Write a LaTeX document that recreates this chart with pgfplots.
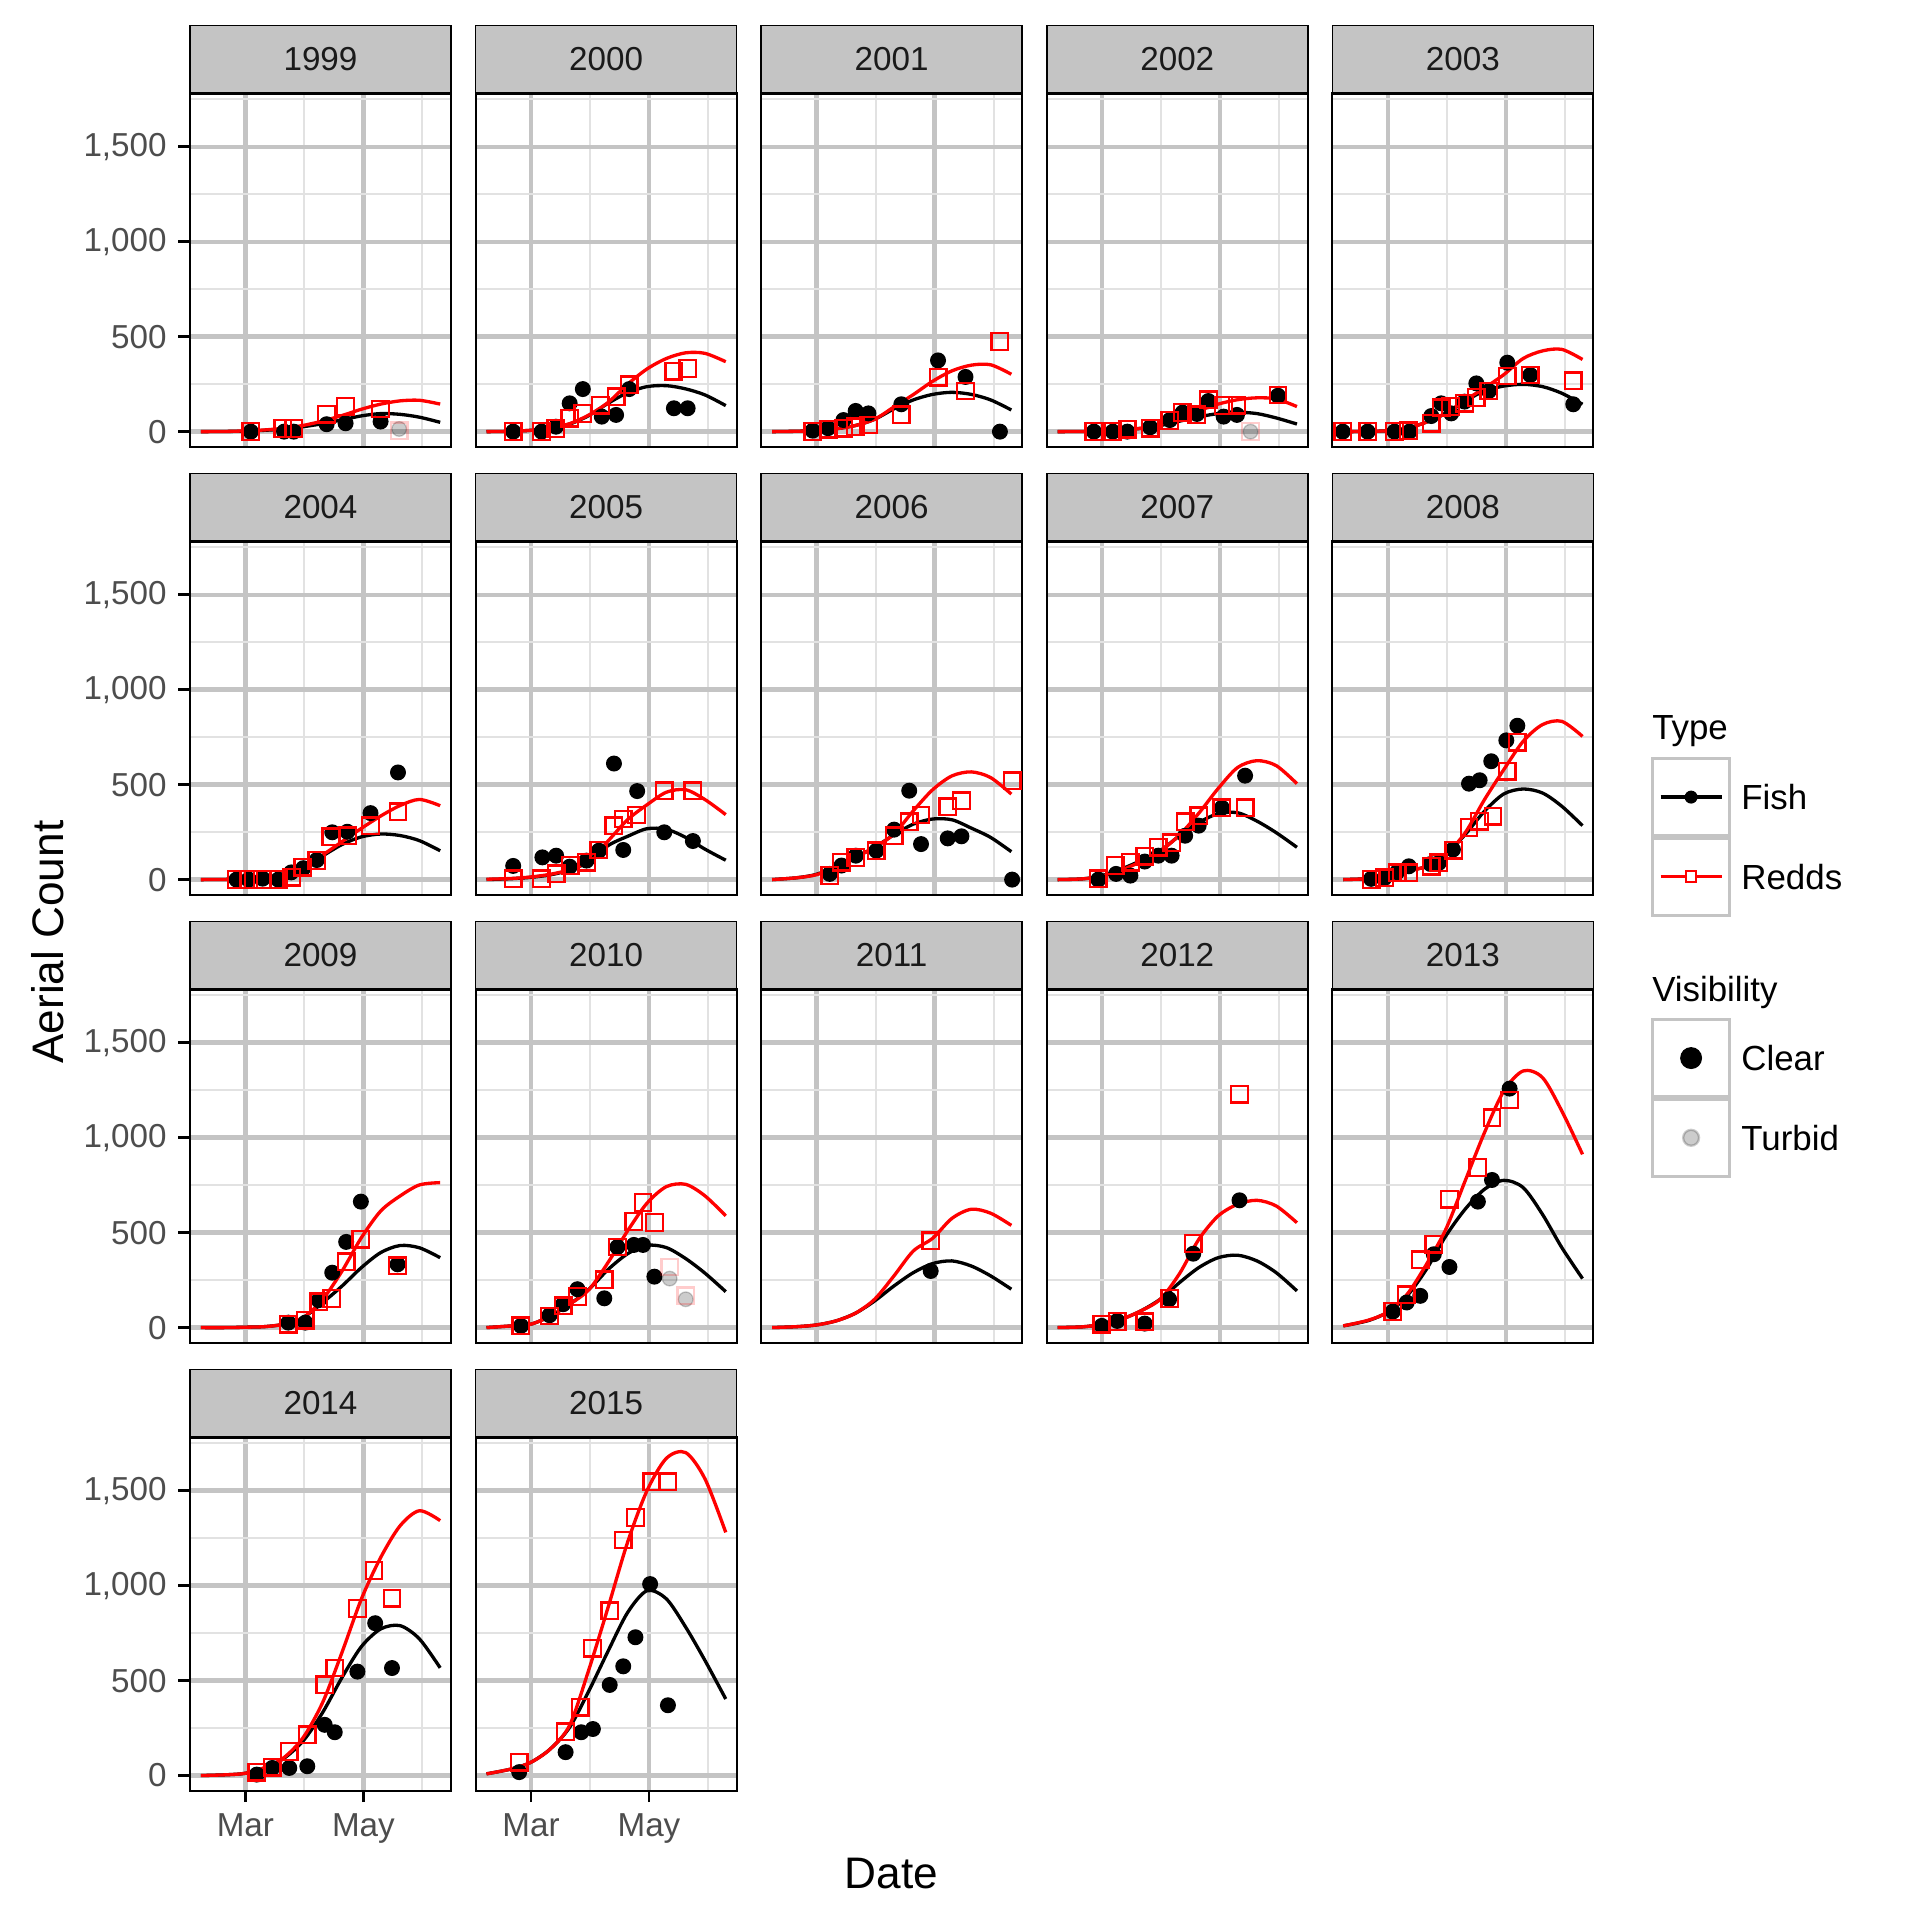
\documentclass[border=0pt]{standalone}
\usepackage{fontspec}
\setmainfont{Liberation Sans}
\usepackage{pgfplots}
\pgfplotsset{compat=1.18}
\usepgfplotslibrary{groupplots}

\definecolor{gridmaj}{RGB}{196,196,196}
\definecolor{gridmin}{RGB}{226,226,226}
\definecolor{stripgray}{RGB}{196,196,196}
\definecolor{ticktext}{RGB}{77,77,77}
\definecolor{striptext}{RGB}{26,26,26}

\pgfplotsset{
  fishpt/.style={only marks, mark=*, mark size=2.2pt, black, forget plot},
  reddpt/.style={only marks, mark=square, mark size=2.5pt, red, mark options={line width=0.7pt}, forget plot},
  fishturb/.style={only marks, mark=*, mark size=2.2pt, black, mark options={draw opacity=0.2, fill opacity=0.2}, forget plot},
  reddturb/.style={only marks, mark=square, mark size=2.5pt, red, mark options={line width=0.7pt, draw opacity=0.2}, forget plot},
  fishline/.style={black, line width=1.0pt, smooth, no markers, forget plot},
  reddline/.style={red, line width=1.0pt, smooth, no markers, forget plot},
  strip/.style={extra description/.code={
    \draw[fill=stripgray, draw=black, line width=0.5pt] (axis description cs:0,1) rectangle ([yshift=20.4pt]axis description cs:1,1);
    \draw[black, line width=1.0pt] (axis description cs:0,1) -- (axis description cs:1,1);
    \node[font=\fontsize{10}{12}\selectfont, text=striptext] at ([yshift=10.2pt]axis description cs:0.5,1) {#1};
  }},
  leftcol/.style={ytick style={draw=black, line width=0.8pt}, yticklabels={0,500,1{,}000,1{,}500}},
  bottomrow/.style={xtick style={draw=black, line width=0.8pt}, xticklabels={Mar,May}},
  keylegend/.style={legend style={draw=none, fill=none, inner sep=0pt, outer sep=0pt,
    row sep=0pt, column sep=3pt, nodes={inner sep=0pt, text depth=0pt, font=\fontsize{10.5}{12}\selectfont},
    at={(#1)}, anchor=north west}},
}

\begin{document}
\begin{tikzpicture}
\begin{groupplot}[
  group style={group size=5 by 4, horizontal sep=7.4pt, vertical sep=28.5pt},
  scale only axis, width=78.6pt, height=106.4pt,
  xmin=31.35, xmax=166.3, ymin=-79, ymax=1781,
  xtick={60,121}, minor xtick={90.5,151.5},
  ytick={0,500,1000,1500}, minor ytick={250,750,1250,1750},
  grid=both,
  major grid style={draw=gridmaj, line width=1.3pt},
  minor grid style={draw=gridmin, line width=0.6pt},
  xticklabels={}, yticklabels={},
  tick align=outside, major tick length=3.5pt, minor tick length=0pt,
  xtick pos=left, ytick pos=left,
  xtick style={draw=none}, ytick style={draw=none},
  axis line style={black, line width=0.6pt},
  tick label style={font=\fontsize{10}{12}\selectfont, text=ticktext},
  legend cell align=left,
]

% 1999
\nextgroupplot[strip=1999, leftcol]
\coordinate (O) at (axis description cs:0,1);
\addplot[fishpt] coordinates {(62.8,0)(80,0)(85,0)(102,39)(111.8,44)(129.9,53)};
\addplot[fishturb] coordinates {(139.5,14)};
\addplot[reddpt] coordinates {(62.8,0)(79.4,17)(85,17)(102,91)(111.8,132)(129.9,119)};
\addplot[reddturb] coordinates {(139.5,5)};
\addplot[fishline] coordinates {(37,0)(50,1)(60,3)(70,7)(80,14)(90,26)(100,42)(110,62)(120,83)(130,95)(140,91)(150,76)(160.7,49)};
\addplot[reddline] coordinates {(37,0)(50,1)(60,4)(70,9)(80,18)(90,33)(100,56)(110,85)(120,118)(130,145)(140,162)(150,165)(160.7,145)};

% 2000
\nextgroupplot[strip=2000]
\addplot[fishpt] coordinates {(50.8,0)(65.5,0)(72.9,26)(80,149)(86.8,224)(96.6,79)(104,88)(110.8,224)(133.9,123)(141,123)};
\addplot[reddpt] coordinates {(50.8,0)(65.5,0)(72.9,17)(80,70)(86.8,96)(96,140)(104,184)(110.8,246)(133.9,319)(141,333)};
\addplot[fishline] coordinates {(37,0)(50,2)(60,7)(70,18)(80,40)(90,85)(100,150)(110,205)(120,237)(130,242)(140,225)(150,193)(160.7,137)};
\addplot[reddline] coordinates {(37,0)(50,2)(60,7)(70,18)(80,42)(90,88)(100,155)(110,250)(120,330)(130,385)(140,415)(150,412)(160.7,368)};

% 2001
\nextgroupplot[strip=2001]
\addplot[fishpt] coordinates {(58,5)(65.9,18)(73.9,61)(80.2,109)(86.8,96)(103.8,144)(122.8,375)(137,288)(154.8,0)};
\addplot[reddpt] coordinates {(58,0)(66,12)(74,18)(80,26)(87,35)(103.8,88)(122.8,286)(137,214)(154.8,474)};
\addplot[fishline] coordinates {(37,0)(50,2)(60,6)(70,15)(80,32)(90,65)(100,120)(110,167)(120,196)(130,207)(140,196)(150,167)(160.7,114)};
\addplot[reddline] coordinates {(37,0)(50,2)(60,6)(70,15)(80,32)(90,65)(100,130)(110,195)(120,265)(130,320)(140,350)(150,352)(160.7,302)};

% 2002
\nextgroupplot[strip=2002]
\addplot[fishpt] coordinates {(55.7,0)(65.5,0)(73,0)(84.8,23)(95,61)(101.6,100)(109,93)(114.9,161)(122.8,79)(129.7,88)(150.9,189)};
\addplot[fishturb] coordinates {(136.7,0)};
\addplot[reddpt] coordinates {(55.7,0)(65.5,0)(73,12)(84.8,18)(95,58)(101.6,100)(109,88)(115,167)(122.8,137)(129.7,140)(150.9,193)};
\addplot[reddturb] coordinates {(136.7,0)};
\addplot[fishline] coordinates {(37,0)(50,1)(60,3)(70,8)(80,17)(90,32)(100,55)(110,78)(120,95)(130,102)(140,95)(150,72)(160.7,40)};
\addplot[reddline] coordinates {(37,0)(50,1)(60,3)(70,8)(80,18)(90,38)(100,70)(110,110)(120,145)(130,168)(140,178)(150,172)(160.7,132)};

% 2003
\nextgroupplot[strip=2003]
\addplot[fishpt] coordinates {(36.7,0)(49.6,0)(63.5,0)(71.2,0)(82.5,82)(87.6,149)(92.8,96)(99.7,158)(105.8,254)(112.3,214)(121.8,363)(133.7,298)(155.9,144)};
\addplot[reddpt] coordinates {(36.7,0)(49.6,0)(63.5,0)(70.7,5)(82.5,44)(87.6,126)(92.5,132)(99.7,149)(105.8,179)(112.3,214)(121.8,293)(133.7,298)(155.9,267)};
\addplot[fishline] coordinates {(37,0)(50,1)(60,5)(70,18)(80,50)(90,96)(100,161)(110,214)(120,240)(130,249)(140,237)(150,202)(160.7,144)};
\addplot[reddline] coordinates {(37,0)(50,1)(60,5)(70,18)(80,50)(90,98)(100,165)(110,230)(120,300)(130,385)(140,425)(150,433)(160.7,380)};

% 2004
\nextgroupplot[strip=2004, leftcol]
\addplot[fishpt] coordinates {(55.4,0)(61.8,0)(68.9,5)(77,0)(83.7,38)(89.9,60)(96.9,103)(104.9,249)(112.7,252)(124.7,350)(138.9,564)};
\addplot[reddpt] coordinates {(55.4,0)(61.8,0)(68.9,0)(77,0)(84,12)(89.6,65)(96.9,100)(104.2,226)(112.9,231)(124.7,284)(138.9,357)};
\addplot[fishline] coordinates {(37,0)(50,1)(60,3)(70,10)(80,28)(90,65)(100,125)(110,185)(120,225)(130,240)(140,232)(150,205)(160.7,152)};
\addplot[reddline] coordinates {(37,0)(50,1)(60,3)(70,10)(80,28)(90,66)(100,130)(110,200)(120,270)(130,335)(140,390)(150,422)(160.7,389)};

% 2005
\nextgroupplot[strip=2005]
\addplot[fishpt] coordinates {(50.8,72)(65.9,117)(73,126)(80,68)(88.7,100)(95.1,152)(102.9,611)(107.7,156)(114.9,466)(128.9,249)(143.7,203)};
\addplot[reddpt] coordinates {(50.8,5)(65.5,5)(73,30)(80.3,74)(88.7,91)(95.1,156)(102.9,284)(107.7,319)(114.5,340)(128.9,467)(143.7,467)};
\addplot[fishline] coordinates {(37,0)(50,5)(60,12)(70,25)(80,50)(90,95)(100,180)(110,228)(120,268)(130,265)(140,222)(150,160)(160.7,102)};
\addplot[reddline] coordinates {(37,2)(50,6)(60,14)(70,28)(80,52)(90,96)(100,205)(110,316)(120,394)(130,460)(140,473)(150,421)(160.7,342)};

% 2006
\nextgroupplot[strip=2006]
\addplot[fishpt] coordinates {(66.8,30)(72.9,74)(80.3,126)(90.9,152)(100.1,263)(107.9,468)(114,187)(127.8,217)(134.9,228)(161.1,0)};
\addplot[reddpt] coordinates {(66.8,21)(72.9,91)(80.3,117)(90.9,152)(100.1,231)(107.9,305)(114,340)(127.8,384)(134.9,415)(161.1,520)};
\addplot[fishline] coordinates {(37,0)(50,10)(60,28)(70,70)(80,117)(90,170)(100,236)(110,292)(120,319)(130,315)(140,271)(150,222)(160.7,147)};
\addplot[reddline] coordinates {(37,0)(50,10)(60,26)(70,65)(80,117)(90,170)(100,240)(110,362)(120,473)(130,546)(140,567)(150,537)(160.7,450)};

% 2007
\nextgroupplot[strip=2007]
\addplot[fishpt] coordinates {(58,0)(67.2,30)(74.6,21)(82,95)(89,126)(95.9,126)(102.9,231)(109.9,284)(121.9,378)(133.9,547)};
\addplot[reddpt] coordinates {(58,4)(66.8,74)(74.6,91)(82,123)(89,170)(95.9,193)(102.9,305)(109.9,336)(121.9,378)(133.9,378)};
\addplot[fishline] coordinates {(37,0)(50,4)(60,21)(70,56)(80,100)(90,152)(100,231)(110,301)(120,347)(130,352)(140,308)(150,247)(160.7,170)};
\addplot[reddline] coordinates {(37,0)(50,4)(60,18)(70,50)(80,95)(90,150)(100,235)(110,350)(120,480)(130,590)(140,626)(150,600)(160.7,505)};

% 2008
\nextgroupplot[strip=2008, keylegend={1.2199,0.3888}]
\addplot[fishpt] coordinates {(51.4,4)(58.3,9)(64.8,39)(70.9,70)(82.1,82)(86.4,88)(93.7,158)(102,505)(107.5,523)(113.5,623)(121.3,733)(127,810)};
\addplot[reddpt] coordinates {(51.4,0)(58.3,9)(64.8,35)(70.9,35)(82.5,70)(86.4,88)(94.2,154)(102,275)(107.5,307)(114.4,333)(121.8,570)(127,723)};
\addplot[fishline] coordinates {(37,0)(50,5)(60,18)(70,44)(80,70)(90,132)(100,237)(110,360)(120,451)(130,477)(140,456)(150,386)(160.7,284)};
\addplot[reddline] coordinates {(37,0)(50,5)(60,18)(70,44)(80,70)(90,132)(100,246)(110,421)(120,579)(130,728)(140,816)(150,833)(160.7,754)};
\addlegendimage{legend image code/.code={
  \draw[gridmaj, line width=0.9pt, fill=white] (0pt,-11.55pt) rectangle (23.4pt,11.55pt);
  \draw[black, line width=1.0pt] (2.5pt,0pt) -- (20.9pt,0pt);
  \fill[black] (11.7pt,0pt) circle (1.75pt);
  \node[overlay, anchor=base west, inner sep=0pt, font=\fontsize{10.5}{12}\selectfont] at (0pt,17.25pt) {Type};
}}
\addlegendentry{Fish}
\addlegendimage{legend image code/.code={
  \draw[gridmaj, line width=0.9pt, fill=white] (0pt,-11.55pt) rectangle (23.4pt,11.55pt);
  \draw[red, line width=1.0pt] (2.5pt,0pt) -- (20.9pt,0pt);
  \draw[red, line width=0.6pt, fill=white] (10.1pt,-1.6pt) rectangle (13.3pt,1.6pt);
}}
\addlegendentry{Redds}

% 2009
\nextgroupplot[strip=2009, leftcol]
\addplot[fishpt] coordinates {(82.2,26)(91,26)(97.9,144)(104.9,289)(112.1,451)(119.7,663)(138.7,333)};
\addplot[reddpt] coordinates {(82.2,18)(91,39)(97.9,135)(104.7,153)(112.1,346)(119.7,465)(138.7,325)};
\addplot[fishline] coordinates {(37,0)(50,0)(60,2)(70,5)(80,18)(90,53)(100,132)(110,219)(120,316)(130,395)(140,432)(150,420)(160.7,368)};
\addplot[reddline] coordinates {(37,0)(50,0)(60,2)(70,5)(80,18)(90,53)(100,149)(110,298)(120,474)(130,614)(140,693)(150,751)(160.7,763)};

% 2010
\nextgroupplot[strip=2010]
\addplot[fishpt] coordinates {(54.8,9)(69.6,65)(76.6,123)(84,202)(97.9,154)(104.7,424)(113.2,435)(117.9,435)(123.8,268)};
\addplot[fishturb] coordinates {(131.7,258)(140,149)};
\addplot[reddpt] coordinates {(54.8,9)(69.6,61)(76.6,114)(84,163)(97.9,251)(104.7,424)(113.2,558)(117.9,658)(123.8,553)};
\addplot[reddturb] coordinates {(131.7,319)(140,167)};
\addplot[fishline] coordinates {(37,0)(50,9)(60,18)(70,61)(80,123)(90,202)(100,307)(110,389)(120,433)(130,421)(140,363)(150,286)(160.7,189)};
\addplot[reddline] coordinates {(37,0)(50,9)(60,18)(70,61)(80,123)(90,200)(100,345)(110,510)(120,655)(130,742)(140,754)(150,693)(160.7,588)};

% 2011
\nextgroupplot[strip=2011]
\addplot[fishpt] coordinates {(119,298)};
\addplot[reddpt] coordinates {(119,456)};
\addplot[fishline] coordinates {(37,0)(50,5)(60,14)(70,35)(80,75)(90,140)(100,219)(110,289)(120,337)(130,351)(140,324)(150,272)(160.7,202)};
\addplot[reddline] coordinates {(37,0)(50,5)(60,14)(70,35)(80,75)(90,149)(100,272)(110,403)(120,470)(130,575)(140,623)(150,602)(160.7,538)};

% 2012
\nextgroupplot[strip=2012]
\addplot[fishpt] coordinates {(59.8,9)(67.8,35)(82,21)(94.6,149)(107.1,389)(131,670)};
\addplot[reddpt] coordinates {(59.8,18)(67.8,32)(82,30)(95,153)(107.1,442)(131,1228)};
\addplot[fishline] coordinates {(37,0)(50,4)(60,18)(70,44)(80,88)(90,149)(100,237)(110,316)(120,368)(130,381)(140,351)(150,289)(160.7,193)};
\addplot[reddline] coordinates {(37,0)(50,4)(60,18)(70,44)(80,88)(90,149)(100,284)(110,465)(120,588)(130,649)(140,670)(150,640)(160.7,552)};

% 2013
\nextgroupplot[strip=2013, keylegend={1.2199,0.918}]
\addplot[fishpt] coordinates {(62.6,84)(69.8,132)(76.8,167)(83.8,386)(91.9,319)(106.6,663)(113.9,777)(123,1258)};
\addplot[reddpt] coordinates {(62.6,84)(69.5,172)(76.8,356)(83.8,439)(91.9,675)(106.6,842)(113.9,1105)(123,1198)};
\addplot[fishline] coordinates {(37,9)(50,37)(60,82)(70,167)(80,307)(90,482)(100,623)(110,728)(120,775)(130,737)(140,596)(150,421)(160.7,258)};
\addplot[reddline] coordinates {(37,9)(50,39)(60,82)(70,175)(80,333)(90,517)(100,772)(110,1026)(120,1245)(130,1351)(140,1316)(150,1140)(160.7,912)};
\addlegendimage{legend image code/.code={
  \draw[gridmaj, line width=0.9pt, fill=white] (0pt,-11.55pt) rectangle (23.4pt,11.55pt);
  \fill[black] (11.7pt,0pt) circle (3.1pt);
  \node[overlay, anchor=base west, inner sep=0pt, font=\fontsize{10.5}{12}\selectfont] at (0pt,17.05pt) {Visibility};
}}
\addlegendentry{Clear}
\addlegendimage{legend image code/.code={
  \draw[gridmaj, line width=0.9pt, fill=white] (0pt,-11.55pt) rectangle (23.4pt,11.55pt);
  \draw[draw=black, fill=black, draw opacity=0.2, fill opacity=0.2, line width=0.7pt] (11.7pt,0pt) circle (2.4pt);
}}
\addlegendentry{Turbid}

% 2014
\nextgroupplot[strip=2014, leftcol, bottomrow]
\addplot[fishpt] coordinates {(65.9,5)(73.9,40)(82.7,40)(92,49)(101,267)(106.2,228)(117.9,547)(127.1,802)(135.8,566)};
\addplot[reddpt] coordinates {(65.9,18)(73.9,44)(82.7,126)(92,214)(101,477)(106.2,566)(117.9,880)(126.5,1079)(135.8,933)};
\addplot[fishline] coordinates {(37,0)(50,4)(60,12)(70,40)(80,91)(90,184)(100,333)(110,517)(120,679)(130,772)(140,789)(150,719)(160.7,567)};
\addplot[reddline] coordinates {(37,0)(50,4)(60,12)(70,42)(80,95)(90,202)(100,386)(110,650)(120,930)(130,1149)(140,1315)(150,1394)(160.7,1342)};

% 2015
\nextgroupplot[strip=2015, bottomrow]
\addplot[fishpt] coordinates {(53.9,18)(77.9,123)(86,228)(92,245)(100.7,477)(107.7,575)(114,728)(121.6,1008)(130.8,370)};
\addplot[reddpt] coordinates {(53.9,70)(77.9,231)(85.5,360)(91.8,670)(100.7,868)(107.7,1240)(114,1359)(122.5,1547)(130.6,1547)};
\addplot[fishline] coordinates {(37,9)(50,35)(60,70)(70,140)(80,254)(90,447)(100,658)(110,859)(120,973)(130,930)(140,781)(150,605)(160.7,403)};
\addplot[reddline] coordinates {(37,9)(50,35)(60,70)(70,140)(80,265)(90,560)(100,890)(110,1230)(120,1500)(130,1670)(140,1700)(150,1561)(160.7,1280)};
\end{groupplot}

\node[font=\fontsize{13.3}{16}\selectfont, anchor=base] at ([shift={(211.2pt,-540.7pt)}]O) {Date};
\node[font=\fontsize{13.3}{16}\selectfont, anchor=base, rotate=90] at ([shift={(-38.0pt,-255.6pt)}]O) {Aerial Count};
\path ([shift={(-57.21pt,28.10pt)}]O) rectangle ([shift={(520.95pt,-550.08pt)}]O);
\end{tikzpicture}
\end{document}
